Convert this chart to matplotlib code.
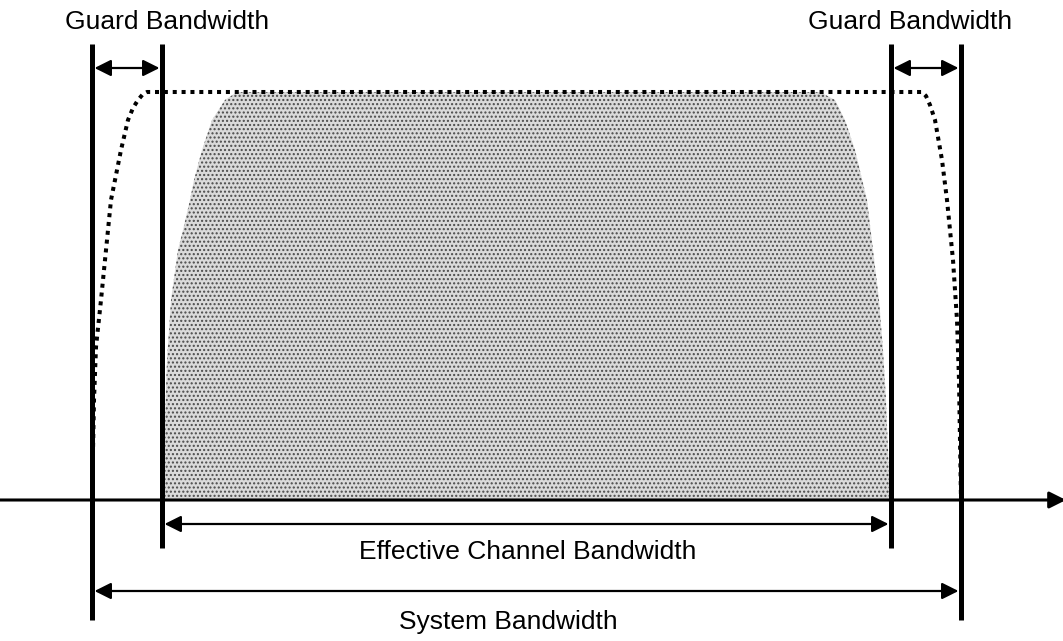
import numpy as np
import matplotlib
matplotlib.use('Agg')
import matplotlib.pyplot as plt

plt.rcParams['font.family'] = ['Liberation Sans', 'DejaVu Sans']

W, H = 1063, 641

# band edges (pixel-like frequency units)
sys_edges = [92, 961]
eff_edges = [162, 891]
axis_y = 500
top_y = 44

# dotted spectrum mask (system bandwidth)
mask_x = [92, 93, 94, 96, 101, 103, 106, 111, 116, 121, 128, 133, 138, 143, 147,
          922, 926, 930, 935, 942, 947, 953, 957, 959, 960, 961]
mask_y = [500, 450, 400, 347, 300, 280, 250, 200, 175, 150, 120, 108, 100, 94, 92,
          92, 96, 105, 120, 160, 200, 260, 320, 380, 440, 500]

# shaded occupied spectrum (effective channel bandwidth)
fill_left_y = [500, 420, 360, 300, 250, 230, 200, 180, 150, 120, 100, 92]
fill_left_x = [163, 165, 167, 171, 178, 183, 190, 194, 202, 212, 225, 237]
fill_right_y = [92, 100, 120, 150, 200, 250, 300, 350, 400, 450, 500]
fill_right_x = [820, 835, 845, 855, 867, 873, 879, 883, 886, 888, 890]

labels = {
    'guard_l': ('Guard Bandwidth', 167, 22),
    'guard_r': ('Guard Bandwidth', 910, 22),
    'eff': ('Effective Channel Bandwidth', 528, 552),
    'sys': ('System Bandwidth', 508, 622),
}

fig = plt.figure(figsize=(W / 100, H / 100), dpi=100)
ax = fig.add_axes([0, 0, 1, 1])
ax.set_xlim(0, W)
ax.set_ylim(H, 0)
ax.axis('off')

# shaded region
px = fill_left_x + fill_right_x
py = fill_left_y + fill_right_y
ax.fill(px, py, facecolor='#dadada', edgecolor='#4a4a4a', linewidth=0, hatch='....', zorder=1)

# dotted mask
ax.plot(mask_x, mask_y, color='k', lw=2.9, linestyle=(0, (1, 1.2)),
        dash_capstyle='butt', solid_joinstyle='round', zorder=2)

# frequency axis
ax.annotate('', xy=(1066, axis_y), xytext=(0, axis_y), annotation_clip=False,
            arrowprops=dict(arrowstyle='-|>,head_length=1.0,head_width=0.5',
                            lw=2.2, color='k', shrinkA=0, shrinkB=0, mutation_scale=10),
            zorder=3)

# vertical band edges
for x in sys_edges:
    ax.plot([x, x], [top_y, 620], color='k', lw=3.6, solid_capstyle='butt', zorder=4)
for x in eff_edges:
    ax.plot([x, x], [top_y, 548], color='k', lw=3.6, solid_capstyle='butt', zorder=4)

arrow_kw = dict(arrowstyle='<|-|>,head_length=1.0,head_width=0.5',
                lw=1.6, color='k', shrinkA=0, shrinkB=0, mutation_scale=10)


def span(x0, x1, y):
    ax.annotate('', xy=(x1 - 2.5, y), xytext=(x0 + 2.5, y), arrowprops=arrow_kw, zorder=5)


span(sys_edges[0], eff_edges[0], 68)
span(eff_edges[1], sys_edges[1], 68)
span(eff_edges[0], eff_edges[1], 524)
span(sys_edges[0], sys_edges[1], 591)

for text, x, y in labels.values():
    ax.text(x, y, text, ha='center', va='center', fontsize=19, color='k')

fig.savefig('out.png', dpi=100)
